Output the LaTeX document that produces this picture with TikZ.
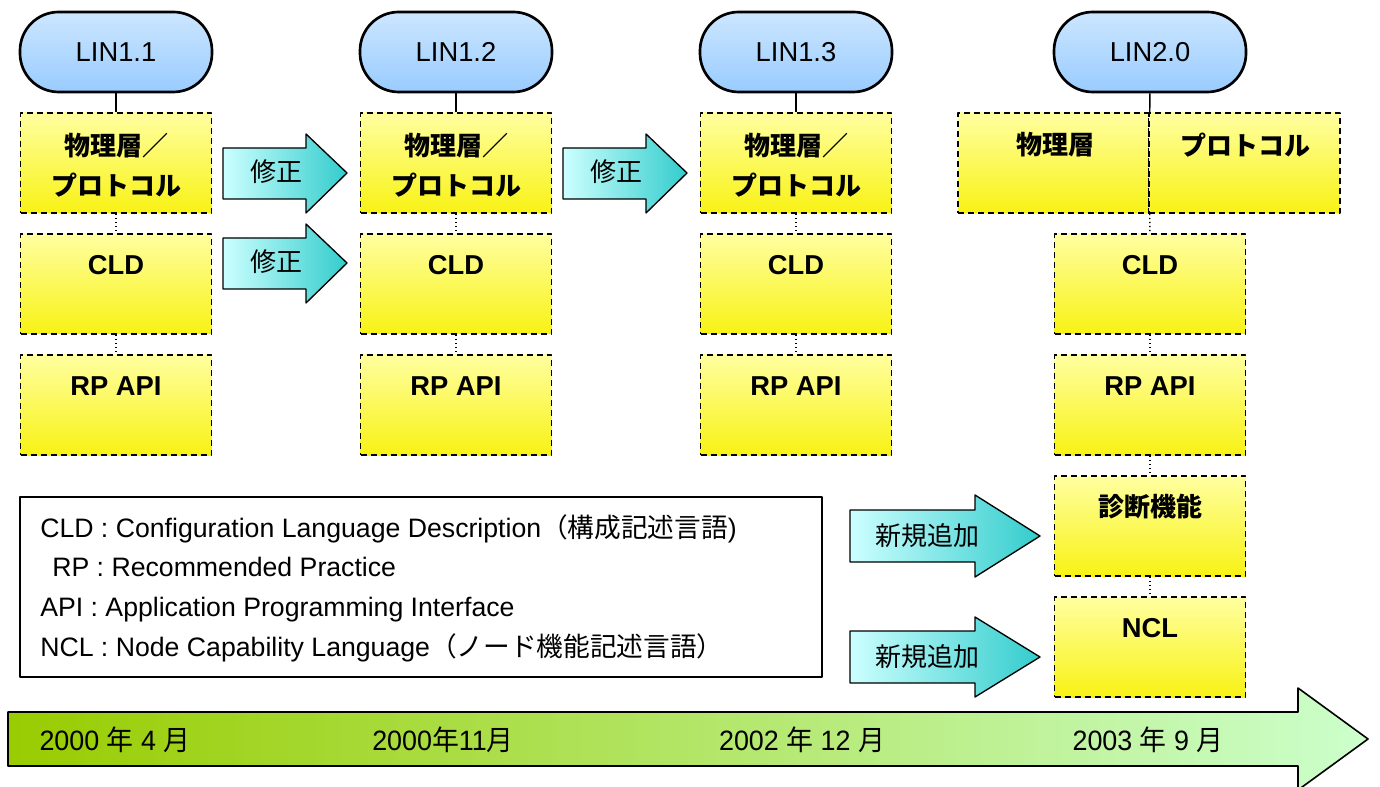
\documentclass[tikz,border=0pt]{standalone}
\usepackage{fontspec}
\setmainfont{Liberation Sans}
\newfontfamily\jp{Noto Sans CJK JP}
\newfontfamily\narrow[FakeStretch=0.96]{Liberation Sans}
\newfontfamily\jpnarrow[FakeStretch=0.96]{Noto Sans CJK JP}
\definecolor{pilltop}{RGB}{204,230,255}
\definecolor{pillbot}{RGB}{153,204,255}
\definecolor{ytop}{RGB}{255,255,160}
\definecolor{ybot}{RGB}{248,242,20}
\definecolor{aqleft}{RGB}{204,255,255}
\definecolor{aqright}{RGB}{51,204,204}
\definecolor{tlleft}{RGB}{153,204,0}
\definecolor{tlright}{RGB}{204,255,204}
\tikzset{
pill/.style={draw, line width=2pt, rounded corners=29pt, minimum width=144pt, minimum height=60pt, top color=pilltop, bottom color=pillbot, font=\fontsize{20.5}{24}\selectfont},
ybox/.style={draw, dashed, dash pattern=on 4.5pt off 3pt, line width=1.2pt, minimum width=143.25pt, minimum height=75pt, inner sep=0pt, top color=ytop, bottom color=ybot},
boxtext/.style={font=\bfseries\fontsize{20.5}{30}\selectfont, align=center, inner sep=0pt},
jpbox/.style={boxtext, font=\jp\bfseries\fontsize{19.5}{30}\selectfont},
fatarrow/.style={draw, line width=1pt, left color=aqleft, right color=aqright},
arrowtext/.style={font=\jp\fontsize{19.5}{23}\selectfont, inner sep=0pt},
linkline/.style={line width=1pt},
dotline/.style={line width=1pt, dotted},
timeline/.style={draw, line width=1.2pt, left color=tlleft, right color=tlright},
datetext/.style={font=\narrow\fontsize{21}{24}\selectfont, inner sep=0pt},
legendtext/.style={font=\fontsize{20}{29.8}\selectfont, align=left, inner sep=0pt}
}
\begin{document}
\begin{tikzpicture}[x=0.75pt, y=-0.75pt, line join=round]
\useasboundingbox (0,0) rectangle (1380,787);
% time line
\draw[timeline] (8,712) -- (1298,712) -- (1298,688) -- (1368,739) -- (1298,790) -- (1298,766) -- (8,766) -- cycle;
\node[datetext] (date1) at (115,740) {2000 {\jpnarrow 年} 4 {\jpnarrow 月}};
\node[datetext] (date2) at (443,740) {2000{\jpnarrow 年}11{\jpnarrow 月}};
\node[datetext] (date3) at (802,740) {2002 {\jpnarrow 年} 12 {\jpnarrow 月}};
\node[datetext] (date4) at (1148,740) {2003 {\jpnarrow 年} 9 {\jpnarrow 月}};
% LIN1.1
\node[pill] (lin1) at (116,52) {LIN1.1};
\node[ybox] (phys1) at (116,163) {};
\node[ybox] (cld1) at (116,284) {};
\node[ybox] (rp1) at (116,405) {};
\node[jpbox] (physl1) at (116,165) {物理層／\\プロトコル};
\node[boxtext] (cldl1) at (116,265) {CLD};
\node[boxtext] (rpl1) at (116,386) {RP API};
\draw[linkline] (lin1) -- (phys1);
\draw[dotline] (phys1) -- (cld1);
\draw[dotline] (cld1) -- (rp1);
% LIN1.2
\node[pill] (lin2) at (456,52) {LIN1.2};
\node[ybox] (phys2) at (456,163) {};
\node[ybox] (cld2) at (456,284) {};
\node[ybox] (rp2) at (456,405) {};
\node[jpbox] (physl2) at (456,165) {物理層／\\プロトコル};
\node[boxtext] (cldl2) at (456,265) {CLD};
\node[boxtext] (rpl2) at (456,386) {RP API};
\draw[linkline] (lin2) -- (phys2);
\draw[dotline] (phys2) -- (cld2);
\draw[dotline] (cld2) -- (rp2);
% LIN1.3
\node[pill] (lin3) at (796,52) {LIN1.3};
\node[ybox] (phys3) at (796,163) {};
\node[ybox] (cld3) at (796,284) {};
\node[ybox] (rp3) at (796,405) {};
\node[jpbox] (physl3) at (796,165) {物理層／\\プロトコル};
\node[boxtext] (cldl3) at (796,265) {CLD};
\node[boxtext] (rpl3) at (796,386) {RP API};
\draw[linkline] (lin3) -- (phys3);
\draw[dotline] (phys3) -- (cld3);
\draw[dotline] (cld3) -- (rp3);
% LIN2.0
\node[pill] (lin4) at (1150,52) {LIN2.0};
\node[ybox] (physa4) at (1053.5,163) {};
\node[ybox] (physb4) at (1244.5,163) {};
\node[ybox] (cld4) at (1150,284) {};
\node[ybox] (rp4) at (1150,405) {};
\node[ybox] (diag4) at (1150,526) {};
\node[ybox] (ncl4) at (1150,647) {};
\node[jpbox] (physla4) at (1055,145) {物理層};
\node[jpbox] (physlb4) at (1245,145) {プロトコル};
\node[boxtext] (cldl4) at (1150,265) {CLD};
\node[boxtext] (rpl4) at (1150,386) {RP API};
\node[jpbox] (diagl4) at (1150,507) {診断機能};
\node[boxtext] (ncll4) at (1150,628) {NCL};
\draw[linkline] (lin4) -- (physa4.north east);
\draw[dotline] (physa4.south east) -- (cld4);
\draw[dotline] (cld4) -- (rp4);
\draw[dotline] (rp4) -- (diag4);
\draw[dotline] (diag4) -- (ncl4);
% fat arrows
\draw[fatarrow] (223,148) -- (306,148) -- (306,134) -- (347,173) -- (306,213) -- (306,199) -- (223,199) -- cycle;
\node[arrowtext] (fix1) at (276,172) {修正};
\draw[fatarrow] (223,238) -- (306,238) -- (306,224) -- (347,263) -- (306,303) -- (306,289) -- (223,289) -- cycle;
\node[arrowtext] (fix2) at (276,262) {修正};
\draw[fatarrow] (563,148) -- (646,148) -- (646,134) -- (687,173) -- (646,213) -- (646,199) -- (563,199) -- cycle;
\node[arrowtext] (fix3) at (616,172) {修正};
\draw[fatarrow] (850,510) -- (975,510) -- (975,495) -- (1040,536) -- (975,577) -- (975,562) -- (850,562) -- cycle;
\node[arrowtext] (new1) at (927,536) {新規追加};
\draw[fatarrow] (850,631) -- (975,631) -- (975,617) -- (1040,657) -- (975,697) -- (975,683) -- (850,683) -- cycle;
\node[arrowtext] (new2) at (927,657) {新規追加};
% legend
\node[draw, line width=1.2pt, minimum width=601.5pt, minimum height=135pt, inner sep=0pt] (legend) at (421,587) {};
\node[legendtext, anchor=west] (legendl) at (40,588) {CLD : Configuration Language Description{\jp（構成記述言語})\\
\hspace*{9pt}RP : Recommended Practice\\
API : Application Programming Interface\\
NCL : Node Capability Language{\jp（ノード機能記述言語）}};
\end{tikzpicture}
\end{document}
